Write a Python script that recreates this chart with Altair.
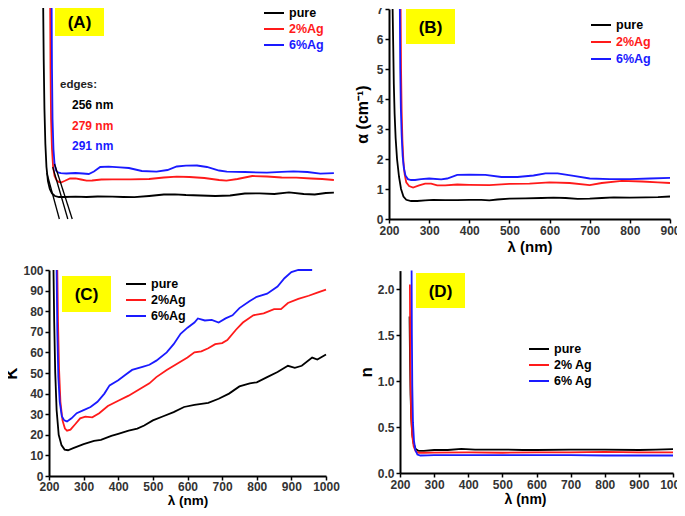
import altair as alt
import pandas as pd

FONT = "Liberation Sans"
SERIES = ["pure", "2%Ag", "6%Ag"]
COLORS = ["#000000", "#ff1a1a", "#1a1aff"]

# ---------------- Panel A : absorbance (arbitrary units) ----------------
A_pure_wl = [212, 213.5, 215.5, 218, 221, 225, 230, 236, 244, 255, 270, 300, 330, 360, 400, 430, 460, 500, 540, 570,
             600, 640, 680, 720, 760, 800, 840, 880, 920, 950, 980, 1002]
A_pure_val = [216, 160, 110, 75, 52, 38, 30, 25.5, 23, 22, 22, 22.3, 22, 22.5, 22.3, 22, 21.8, 23, 24.5, 24.7,
              24, 23.5, 23, 23.5, 25.5, 25.7, 25, 26.7, 25, 24.5, 26, 26.3]
A_ag2_wl = [231, 232, 233.5, 236, 239, 243, 248, 254, 260, 270, 285, 300, 315, 330, 345, 370, 400, 450, 500, 540,
            575, 610, 650, 690, 710, 740, 780, 820, 860, 900, 940, 970, 1002]
A_ag2_val = [216, 150, 100, 70, 52, 43, 39, 37, 36.5, 38, 40.5, 40.7, 39.5, 38.3, 38.5, 39.5, 39.7, 39.7, 40, 41.5,
             42.3, 42, 41, 39, 38.3, 40, 43, 42.5, 41.5, 41.3, 40.5, 40, 39]
A_ag6_wl = [235, 236, 237.5, 240, 243, 247, 252, 260, 275, 300, 320, 336, 350, 367, 390, 421, 445, 480, 520, 550,
            575, 600, 630, 657, 690, 711, 760, 820, 860, 892, 930, 965, 1002]
A_ag6_val = [216, 150, 100, 70, 55, 48.5, 46.5, 45.8, 45.5, 46, 45.5, 45, 47.5, 52, 52.3, 51.7, 51, 48, 47.3, 49,
             52.5, 53.3, 53.5, 52, 48.5, 47.3, 47, 46.3, 47.2, 47.7, 47, 45.3, 45.8]
# tangent lines used to read the absorption edges
TAN_wl_start = [222, 238, 243]
TAN_val_start = [46, 52, 55]
TAN_edge_wl = [256, 279, 291]
EDGE_LABELS = ["256 nm", "279 nm", "291 nm"]

# ---------------- Panel B : alpha (cm^-1) ----------------
B_pure_wl = [209, 210.5, 212, 214, 216.5, 220, 225, 230, 236, 243, 255, 270, 290, 310, 340, 370, 400, 430, 450, 470,
             500, 540, 580, 610, 640, 670, 700, 730, 760, 800, 840, 870, 900]
B_pure_val = [7.0, 5.8, 4.5, 3.5, 2.7, 2.0, 1.4, 1.0, 0.75, 0.64, 0.6, 0.6, 0.62, 0.64, 0.63, 0.63, 0.64, 0.64, 0.62,
              0.65, 0.68, 0.69, 0.7, 0.71, 0.7, 0.67, 0.68, 0.7, 0.72, 0.71, 0.72, 0.73, 0.75]
B_ag2_wl = [229, 230, 231.5, 233.5, 236, 239, 243, 250, 260, 275, 290, 305, 320, 340, 370, 400, 450, 500, 550, 600,
            650, 700, 730, 780, 830, 870, 900]
B_ag2_val = [7.0, 5.0, 3.6, 2.6, 1.9, 1.5, 1.22, 1.1, 1.05, 1.12, 1.18, 1.18, 1.12, 1.12, 1.15, 1.14, 1.13, 1.17,
             1.18, 1.22, 1.2, 1.13, 1.2, 1.27, 1.25, 1.22, 1.2]
B_ag6_wl = [227, 228, 229.5, 231.5, 234, 237, 241, 247, 255, 265, 280, 300, 330, 345, 370, 400, 440, 480, 520, 560,
            590, 620, 660, 700, 750, 800, 850, 900]
B_ag6_val = [7.0, 5.0, 3.7, 2.8, 2.1, 1.7, 1.45, 1.33, 1.3, 1.3, 1.33, 1.35, 1.32, 1.35, 1.47, 1.48, 1.47, 1.4, 1.4,
             1.45, 1.52, 1.52, 1.44, 1.35, 1.33, 1.33, 1.35, 1.37]

# ---------------- Panel C : K ----------------
C_pure_wl = [213, 215, 218, 222, 228, 236, 245, 255, 270, 300, 330, 350, 380, 400, 430, 455, 475, 500, 530, 560,
             590, 620, 660, 690, 720, 750, 780, 800, 830, 860, 890, 910, 930, 960, 975, 1000]
C_pure_val = [100, 75, 50, 32, 20, 15, 12.8, 12.5, 13.5, 15.5, 17, 17.5, 19.5, 20.5, 22, 23, 24.5, 27, 29, 31,
              33.5, 34.5, 35.5, 37.5, 40, 43.5, 45, 45.5, 48, 50.5, 53.5, 52.5, 53.5, 57.5, 56.5, 59]
C_ag2_wl = [224, 226, 229, 233, 239, 246, 252, 262, 275, 290, 305, 325, 345, 370, 400, 430, 460, 490, 510, 540,
            570, 600, 620, 640, 660, 680, 700, 715, 740, 760, 790, 820, 850, 870, 890, 920, 950, 975, 1000]
C_ag2_val = [100, 75, 52, 36, 27, 23, 22, 22.5, 25, 28, 28.8, 28.5, 30.5, 34, 36.5, 39, 42, 45, 48, 51.5,
             54.5, 57.5, 60, 60.5, 62, 64, 64.5, 66, 71, 74.5, 78, 79, 81, 81, 84, 86, 87.5, 89, 90.5]
C_ag6_wl = [222, 224, 227, 231, 237, 244, 252, 265, 280, 300, 320, 340, 360, 375, 400, 420, 440, 470, 490, 510,
            540, 560, 580, 600, 620, 630, 650, 670, 690, 710, 730, 750, 780, 800, 830, 860, 880, 900, 920, 960]
C_ag6_val = [100, 70, 48, 36, 29, 27, 26.5, 28, 30.5, 32, 33.5, 36, 40, 44, 46.5, 49, 51.5, 53, 54, 56,
             60, 64, 69, 72, 74.5, 76.5, 75.5, 75.8, 74.5, 76.5, 78, 81.5, 85, 87, 88.5, 92, 96, 99, 100, 100]

# ---------------- Panel D : n ----------------
D_pure_wl = [228, 229.5, 231, 233, 236, 240, 246, 255, 270, 300, 340, 380, 420, 500, 560, 600, 700, 800, 900, 950, 1000]
D_pure_val = [1.7, 1.2, 0.85, 0.6, 0.42, 0.32, 0.26, 0.24, 0.24, 0.25, 0.25, 0.262, 0.255, 0.255, 0.25, 0.25,
              0.255, 0.255, 0.25, 0.255, 0.26]
D_ag2_wl = [229, 229.8, 231, 233, 236, 240, 246, 255, 270, 300, 400, 500, 600, 700, 800, 900, 1000]
D_ag2_val = [2.05, 1.5, 0.95, 0.6, 0.4, 0.29, 0.235, 0.22, 0.22, 0.222, 0.225, 0.22, 0.225, 0.225, 0.23, 0.225, 0.225]
D_ag6_wl = [234, 234.8, 236, 238, 241, 245, 251, 260, 280, 300, 400, 500, 600, 700, 800, 900, 1000]
D_ag6_val = [2.2, 1.5, 0.95, 0.55, 0.35, 0.25, 0.2, 0.19, 0.192, 0.195, 0.195, 0.195, 0.195, 0.195, 0.19, 0.19, 0.19]


def long_df(parts):
    rows = []
    for name, xs, ys in parts:
        for i, (x, y) in enumerate(zip(xs, ys)):
            rows.append({"wl": x, "val": y, "s": name, "i": i})
    return pd.DataFrame(rows)


def ax(orient, offset, title, values=None, labels=True, ticks=True, fmt="d",
       title_size=15, title_pad=3, label_pad=2, **kw):
    d = dict(orient=orient, offset=offset, title=title, grid=False,
             domainColor="black", domainWidth=2, tickColor="black", tickWidth=1.5,
             tickSize=4, labels=labels, ticks=ticks, labelFont=FONT, labelFontSize=12,
             labelFontWeight="bold", labelColor="#333333", labelPadding=label_pad,
             labelOverlap=False, labelFlush=False,
             titleFont=FONT, titleFontSize=title_size, titleFontWeight="bold",
             titleColor="black", titlePadding=title_pad)
    if values is not None:
        d["values"] = list(values)
    if fmt:
        d["format"] = fmt
    d.update(kw)
    return alt.Axis(**d)


def leg(x, y, colored, row_pad=2, label_expr=None):
    d = dict(orient="none", legendX=x, legendY=y, title=None,
             symbolType="M-1.667,0H1.667", symbolSize=144, symbolStrokeWidth=2,
             labelFont=FONT, labelFontSize=12.5, labelFontWeight="bold",
             labelOffset=8, rowPadding=row_pad, padding=0)
    if colored:
        d["labelColor"] = alt.ExprRef(
            expr="datum.label == 'pure' ? '#000000' : (datum.label == '2%Ag' ? '#ff1a1a' : '#1a1aff')")
    else:
        d["labelColor"] = "#000000"
    if label_expr:
        d["labelExpr"] = label_expr
    return alt.Legend(**d)


def lines(df, xdom, xrng, ydom, yrng, xaxis, yaxis, legend):
    return alt.Chart(df).mark_line(strokeWidth=1.8).encode(
        x=alt.X("wl:Q", scale=alt.Scale(domain=xdom, range=xrng, nice=False, zero=False), axis=xaxis),
        y=alt.Y("val:Q", scale=alt.Scale(domain=ydom, range=yrng, nice=False, zero=False), axis=yaxis),
        color=alt.Color("s:N", scale=alt.Scale(domain=SERIES, range=COLORS), legend=legend),
        order="i:Q",
    )


def badge(label, x0, x1, y0, y1):
    src = pd.DataFrame({"label": [label]})
    rect = alt.Chart(src).mark_rect(color="#ffff00").encode(
        x=alt.value(x0), x2=alt.value(x1), y=alt.value(y0), y2=alt.value(y1))
    txt = alt.Chart(src).mark_text(font=FONT, fontSize=17, fontWeight="bold", color="black").encode(
        text="label:N", x=alt.value((x0 + x1) / 2), y=alt.value((y0 + y1) / 2 + 1))
    return [rect, txt]


# ---------- Panel A ----------
dfA = long_df([("pure", A_pure_wl, A_pure_val), ("2%Ag", A_ag2_wl, A_ag2_val), ("6%Ag", A_ag6_wl, A_ag6_val)])
tan_rows = []
for k in range(3):
    tan_rows.append({"wl": TAN_wl_start[k], "val": TAN_val_start[k], "seg": k})
    tan_rows.append({"wl": TAN_edge_wl[k], "val": 0, "seg": k})
dfT = pd.DataFrame(tan_rows)

A_xdom, A_xrng, A_ydom, A_yrng = [198, 1005], [30, 327], [0, 211], [211, 0]
a_lines = lines(dfA, A_xdom, A_xrng, A_ydom, A_yrng,
                ax("bottom", -289, "λ (nm)", values=range(300, 1001, 100), title_size=13.5, title_pad=2),
                ax("left", -30, "Absorbance (a.u.)", labels=False, ticks=False, title_size=16.5, title_pad=11),
                leg(259, -2, True))
a_tan = alt.Chart(dfT).mark_line(color="black", strokeWidth=1.3).encode(
    x=alt.X("wl:Q", scale=alt.Scale(domain=A_xdom, range=A_xrng, nice=False, zero=False), axis=None),
    y=alt.Y("val:Q", scale=alt.Scale(domain=A_ydom, range=A_yrng, nice=False, zero=False), axis=None),
    detail="seg:N",
)
one = pd.DataFrame({"k": [0]})
a_texts = [alt.Chart(one).mark_text(align="left", font=FONT, fontSize=11.5, fontWeight="bold",
                                    color="#222222").encode(text=alt.value("edges:"), x=alt.value(52), y=alt.value(77))]
for lab, col, yy in zip(EDGE_LABELS, COLORS, [97, 118, 138]):
    a_texts.append(alt.Chart(one).mark_text(align="left", font=FONT, fontSize=12, fontWeight="bold",
                                            color=col).encode(text=alt.value(lab), x=alt.value(64), y=alt.value(yy)))
panelA = alt.layer(*badge("(A)", 47, 96, 0, 28), a_lines, a_tan, *a_texts)

# ---------- Panel B ----------
dfB = long_df([("pure", B_pure_wl, B_pure_val), ("2%Ag", B_ag2_wl, B_ag2_val), ("6%Ag", B_ag6_wl, B_ag6_val)])
b_lines = lines(dfB, [200, 900], [381, 662], [0, 7], [211, 1],
                ax("bottom", -289, "λ (nm)", values=range(200, 901, 100)),
                ax("left", -381, "α (cm⁻¹)", values=range(0, 8), title_size=16, title_pad=6),
                leg(586, 10, True, row_pad=3))
panelB = alt.layer(*badge("(B)", 398, 447, 1, 36), b_lines)

# ---------- Panel C ----------
dfC = long_df([("pure", C_pure_wl, C_pure_val), ("2%Ag", C_ag2_wl, C_ag2_val), ("6%Ag", C_ag6_wl, C_ag6_val)])
c_lines = lines(dfC, [200, 1000], [41, 318], [0, 100], [468, 262],
                ax("bottom", -32, "λ (nm)", values=range(200, 1001, 100), title_size=13.5, title_pad=1,
                   label_pad=1),
                ax("left", -41, "K", values=range(0, 101, 10), title_size=17, title_pad=2),
                leg(121, 269, False))
panelC = alt.layer(*badge("(C)", 54, 103, 268, 304), c_lines)

# ---------- Panel D ----------
dfD = long_df([("pure", D_pure_wl, D_pure_val), ("2%Ag", D_ag2_wl, D_ag2_val), ("6%Ag", D_ag6_wl, D_ag6_val)])
d_lines = lines(dfD, [200, 1000], [392, 665], [0, 2.2], [465, 262.6],
                ax("bottom", -35, "λ (nm)", values=range(200, 1001, 100), title_size=14, title_pad=2,
                   titleX=517),
                ax("left", -392, "n", values=[0, 0.5, 1.0, 1.5, 2.0], fmt=".1f", title_size=17, title_pad=2),
                leg(524, 334, False, label_expr="replace(datum.label, '%', '% ')"))
panelD = alt.layer(*badge("(D)", 408, 457, 265, 300), d_lines)

chart = alt.layer(panelA, panelB, panelC, panelD).resolve_scale(
    x="independent", y="independent", color="independent"
).resolve_axis(x="independent", y="independent").resolve_legend(color="independent").properties(
    width=669, height=500, padding=0, autosize=alt.AutoSizeParams(type="none")
).configure_view(stroke=None)

chart.save("out.html", embed_options={"renderer": "svg", "actions": False})
